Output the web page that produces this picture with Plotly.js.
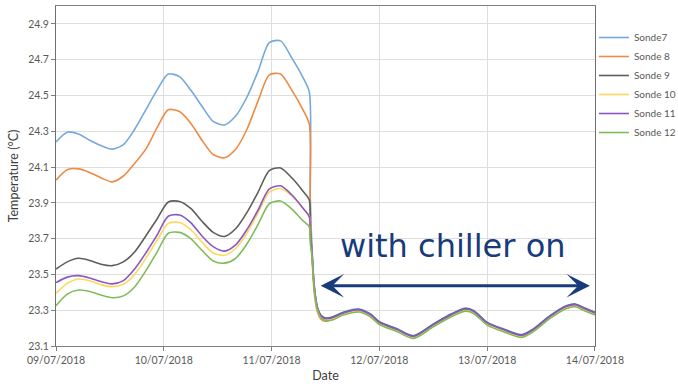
<!DOCTYPE html>
<html>
<head>
<meta charset="utf-8">
<script src="https://cdn.plot.ly/plotly-3.0.1.min.js"></script>
<style>
  html, body { margin: 0; padding: 0; background: #ffffff; }
  #chart { width: 678px; height: 386px; }
</style>
</head>
<body>
<div id="chart"></div>
<script>
// Hours elapsed since 09/07/2018 00:00 for every reading
const hours = [0, 2.5, 5, 7.5, 10, 12.5, 15, 17.5, 20, 22.5, 25, 27.5, 30, 32.5, 35, 37.5, 40, 42.5, 45, 47.5, 50, 52.5, 55, 56.4,
  56.6, 57.0, 57.5, 58.2, 59, 60, 61.5, 64, 67.5, 70, 72, 76, 79.6, 84, 88, 91.2, 93, 96, 99.6, 103.7, 106.3, 110, 113.7, 115.6, 117.4, 120];

const seriesNames = ['Sonde7', 'Sonde 8', 'Sonde 9', 'Sonde 10', 'Sonde 11', 'Sonde 12'];

// Temperatures (°C)
const sonde7 = [24.24, 24.295, 24.285, 24.25, 24.22, 24.20, 24.225, 24.31, 24.42, 24.53, 24.62, 24.605, 24.53, 24.44, 24.355, 24.335, 24.385, 24.49, 24.635, 24.795, 24.805, 24.71, 24.60, 24.52,
  23.95, 23.65, 23.44, 23.318, 23.272, 23.257, 23.262, 23.29, 23.307, 23.28, 23.236, 23.196, 23.158, 23.223, 23.28, 23.312, 23.298, 23.233, 23.196, 23.164, 23.196, 23.27, 23.326, 23.335, 23.316, 23.289];
const sonde8 = [24.027, 24.085, 24.09, 24.07, 24.04, 24.017, 24.05, 24.12, 24.20, 24.32, 24.42, 24.41, 24.345, 24.25, 24.17, 24.152, 24.20, 24.31, 24.47, 24.615, 24.62, 24.53, 24.42, 24.34,
  23.88, 23.60, 23.40, 23.29, 23.25, 23.238, 23.248, 23.28, 23.298, 23.27, 23.226, 23.186, 23.148, 23.214, 23.27, 23.303, 23.289, 23.224, 23.186, 23.155, 23.187, 23.26, 23.316, 23.325, 23.306, 23.279];
const sonde9 = [23.53, 23.57, 23.59, 23.578, 23.557, 23.549, 23.57, 23.625, 23.715, 23.81, 23.905, 23.908, 23.869, 23.797, 23.735, 23.712, 23.755, 23.845, 23.96, 24.08, 24.095, 24.04, 23.965, 23.916,
  23.76, 23.62, 23.43, 23.314, 23.27, 23.255, 23.26, 23.287, 23.304, 23.277, 23.234, 23.194, 23.156, 23.221, 23.277, 23.309, 23.296, 23.231, 23.194, 23.162, 23.194, 23.268, 23.324, 23.333, 23.314, 23.287];
const sonde10 = [23.394, 23.45, 23.474, 23.465, 23.443, 23.432, 23.445, 23.50, 23.59, 23.69, 23.785, 23.79, 23.75, 23.68, 23.62, 23.607, 23.645, 23.73, 23.845, 23.96, 23.98, 23.94, 23.87, 23.826,
  23.72, 23.61, 23.42, 23.30, 23.258, 23.244, 23.249, 23.277, 23.294, 23.267, 23.224, 23.184, 23.146, 23.211, 23.267, 23.299, 23.286, 23.221, 23.184, 23.152, 23.184, 23.258, 23.314, 23.323, 23.304, 23.277];
const sonde11 = [23.454, 23.485, 23.493, 23.48, 23.46, 23.447, 23.465, 23.53, 23.62, 23.72, 23.825, 23.832, 23.79, 23.715, 23.655, 23.63, 23.665, 23.75, 23.86, 23.978, 23.995, 23.945, 23.87, 23.822,
  23.72, 23.62, 23.43, 23.312, 23.268, 23.253, 23.258, 23.285, 23.302, 23.275, 23.232, 23.192, 23.154, 23.219, 23.275, 23.307, 23.294, 23.229, 23.192, 23.16, 23.192, 23.266, 23.322, 23.331, 23.312, 23.285];
const sonde12 = [23.325, 23.39, 23.413, 23.405, 23.385, 23.37, 23.38, 23.43, 23.52, 23.625, 23.73, 23.735, 23.70, 23.635, 23.575, 23.563, 23.59, 23.67, 23.78, 23.895, 23.91, 23.865, 23.80, 23.766,
  23.68, 23.60, 23.42, 23.305, 23.258, 23.242, 23.245, 23.273, 23.29, 23.263, 23.22, 23.18, 23.142, 23.207, 23.263, 23.295, 23.282, 23.217, 23.18, 23.148, 23.18, 23.254, 23.31, 23.319, 23.30, 23.273];

const seriesValues = [sonde7, sonde8, sonde9, sonde10, sonde11, sonde12];
const seriesColors = ['#74a9da', '#ef8a45', '#5e5e5e', '#ffd75e', '#8a58c2', '#7fbc58'];

// Annotated period
const chillerLabel = 'with chiller on';
const chillerStart = '2018-07-11 10:36';
const chillerEnd = '2018-07-13 22:53';
const chillerArrowTemp = 23.437;

const start = Date.UTC(2018, 6, 9, 0, 0, 0);
function stamp(h) {
  return new Date(start + h * 3600000).toISOString().slice(0, 19).replace('T', ' ');
}
const times = hours.map(stamp);

const traces = seriesNames.map((name, i) => ({
  type: 'scatter',
  mode: 'lines',
  name: name,
  x: times,
  y: seriesValues[i],
  line: { color: seriesColors[i], width: 1.6, shape: 'spline', smoothing: 0.75 },
  legendgroup: 'g' + i,
  hoverinfo: 'skip'
}));

const font = 'Lato, "Open Sans", sans-serif';

const layout = {
  width: 678,
  height: 386,
  margin: { l: 56, r: 83, t: 6, b: 40, autoexpand: false },
  paper_bgcolor: '#ffffff',
  plot_bgcolor: '#ffffff',
  font: { family: font, color: '#595959', size: 10.5 },
  showlegend: true,
  legend: {
    x: 0.998, xanchor: 'left',
    y: 0.95, yanchor: 'top',
    font: { family: font, size: 10, color: '#595959' },
    tracegroupgap: 0,
    bgcolor: 'rgba(0,0,0,0)'
  },
  xaxis: {
    type: 'date',
    range: ['2018-07-09 00:00', '2018-07-14 00:01'],
    tick0: '2018-07-09',
    dtick: 86400000,
    tickformat: '%d/%m/%Y',
    ticks: 'outside',
    ticklen: 4,
    tickcolor: '#7f7f7f',
    showline: true,
    linecolor: '#7f7f7f',
    linewidth: 1,
    mirror: true,
    showgrid: true,
    gridcolor: '#dedede',
    gridwidth: 1,
    zeroline: false,
    tickfont: { family: font, size: 10.5, color: '#595959' },
    title: { text: 'Date', font: { family: font, size: 12.5, color: '#404040' }, standoff: 6 }
  },
  yaxis: {
    range: [23.1, 25.0],
    tick0: 23.1,
    dtick: 0.2,
    tickformat: '.1f',
    ticks: 'outside',
    ticklen: 4,
    tickcolor: '#7f7f7f',
    showline: true,
    linecolor: '#6f6f6f',
    linewidth: 1,
    mirror: true,
    showgrid: true,
    gridcolor: '#dedede',
    gridwidth: 1,
    zeroline: false,
    tickfont: { family: font, size: 10.5, color: '#595959' },
    title: { text: 'Temperature (°C)', font: { family: font, size: 12.5, color: '#404040' }, standoff: 6 }
  },
  annotations: [
    {
      xref: 'x', yref: 'y',
      x: chillerEnd, y: chillerArrowTemp,
      axref: 'x', ayref: 'y',
      ax: chillerStart, ay: chillerArrowTemp,
      text: '',
      showarrow: true,
      arrowside: 'end+start',
      arrowhead: 3,
      startarrowhead: 3,
      arrowsize: 1.3,
      startarrowsize: 1.3,
      arrowwidth: 3,
      arrowcolor: '#183b7c',
      standoff: 0,
      startstandoff: 0
    },
    {
      xref: 'x', yref: 'y',
      x: '2018-07-12 16:18', y: 23.66,
      text: chillerLabel,
      showarrow: false,
      xanchor: 'center', yanchor: 'middle',
      font: { family: '"DejaVu Sans", sans-serif', size: 32, color: '#183b7c' }
    }
  ]
};

Plotly.newPlot('chart', traces, layout, { displayModeBar: false, staticPlot: true });
</script>
</body>
</html>
